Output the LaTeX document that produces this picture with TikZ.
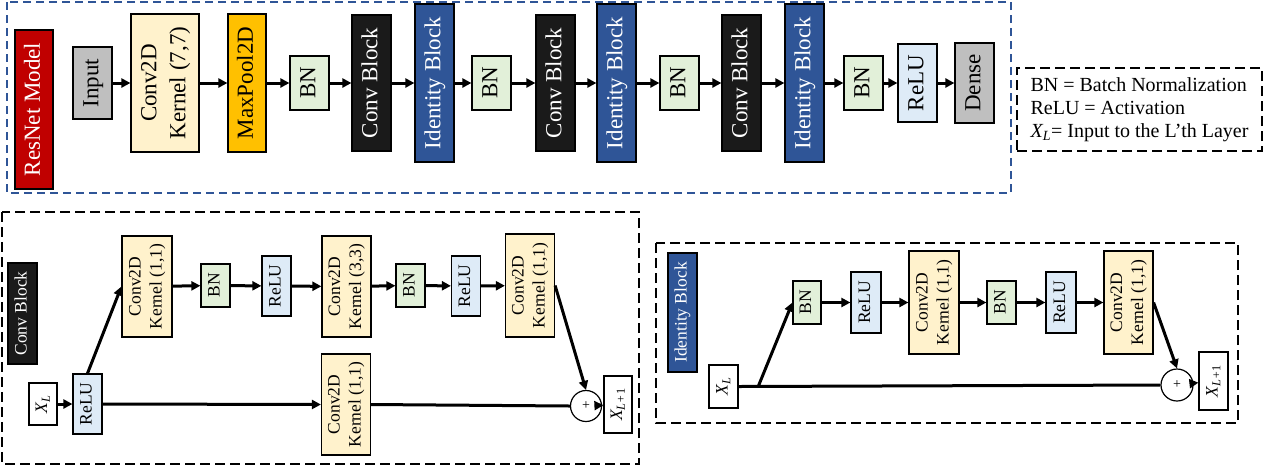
\documentclass[tikz,border=0pt]{standalone}
\usepackage{fontspec}
\setmainfont{Liberation Serif}
\usetikzlibrary{arrows.meta,calc,positioning}
\definecolor{resred}{HTML}{C00000}
\definecolor{ingray}{HTML}{BFBFBF}
\definecolor{convyel}{HTML}{FFF2CC}
\definecolor{poolgold}{HTML}{FFC000}
\definecolor{bngreen}{HTML}{E2F0D9}
\definecolor{blkblack}{HTML}{1A1A1A}
\definecolor{idblue}{HTML}{2F5597}
\definecolor{relublue}{HTML}{DEEBF7}
\newcommand{\vtext}[1]{\rotatebox{90}{\begin{tabular}{@{}c@{}}#1\end{tabular}}}
\tikzset{
blk/.style={draw=black, line width=1.2pt, inner sep=0pt},
topblk/.style={blk, font=\fontsize{23}{29}\selectfont},
subblk/.style={blk, font=\fontsize{17.5}{21}\selectfont},
sz/.style 2 args={minimum width=#1pt, minimum height=#2pt},
convnode/.style={fill=convyel},
bnnode/.style={fill=bngreen},
relunode/.style={fill=relublue},
cbnode/.style={fill=blkblack, text=white},
ibnode/.style={fill=idblue, text=white},
plusnode/.style={draw, circle, line width=1.2pt, fill=white, minimum size=31pt, inner sep=0pt, font=\fontsize{14}{16}\selectfont},
arr/.style={line width=3pt, -{Triangle[length=9pt,width=9pt]}},
plain/.style={line width=3pt},
topframe/.style={draw=idblue, line width=2.3pt, dash pattern=on 8pt off 5pt},
subframe/.style={draw=black, line width=2.5pt, dash pattern=on 10pt off 5pt},
}
\begin{document}
\begin{tikzpicture}[x=1pt, y=-1pt]
\useasboundingbox (0,0) rectangle (1263,467);
\draw[topframe] (7,2) rectangle (1011,193);
\draw[subframe] (2,212) rectangle (639,464);
\draw[subframe] (656,243) rectangle (1238,423);

\node[topblk, fill=resred, text=white, sz={38}{159}] (resnet) at (34,109.5) {\vtext{ResNet Model}};
\node[topblk, fill=ingray, sz={39}{72}] (inp) at (92.5,83) {\vtext{Input}};
\node[topblk, convnode, sz={68}{138}] (conv7) at (165,83) {\vtext{Conv2D\\Kernel (7,7)}};
\node[topblk, fill=poolgold, sz={38}{138}] (pool) at (247,83) {\vtext{MaxPool2D}};
\node[topblk, bnnode, sz={39}{54}] (bn1) at (309.5,83) {\vtext{BN}};
\node[topblk, cbnode, sz={39}{136}] (cb1) at (371.5,83) {\vtext{Conv Block}};
\node[topblk, ibnode, sz={39}{158}] (ib1) at (434.5,83) {\vtext{Identity Block}};
\node[topblk, bnnode, sz={39}{54}] (bn2) at (491.5,83) {\vtext{BN}};
\node[topblk, cbnode, sz={39}{136}] (cb2) at (555.5,83) {\vtext{Conv Block}};
\node[topblk, ibnode, sz={39}{158}] (ib2) at (616.5,83) {\vtext{Identity Block}};
\node[topblk, bnnode, sz={39}{54}] (bn3) at (679.5,83) {\vtext{BN}};
\node[topblk, cbnode, sz={39}{136}] (cb3) at (741.5,83) {\vtext{Conv Block}};
\node[topblk, ibnode, sz={39}{158}] (ib3) at (804.5,83) {\vtext{Identity Block}};
\node[topblk, bnnode, sz={39}{54}] (bn4) at (863.5,83) {\vtext{BN}};
\node[topblk, relunode, sz={39}{78}] (relu) at (917.5,83) {\vtext{ReLU}};
\node[topblk, fill=ingray, sz={39}{80}] (dense) at (974.5,83) {\vtext{Dense}};
\foreach \a/\b in {inp/conv7, conv7/pool, pool/bn1, bn1/cb1, cb1/ib1, ib1/bn2, bn2/cb2, cb2/ib2, ib2/bn3, bn3/cb3, cb3/ib3, ib3/bn4, bn4/relu, relu/dense}
  \draw[arr] (\a) -- (\b);

\node[draw, line width=2.5pt, dash pattern=on 10pt off 5pt, align=left, minimum width=245pt, minimum height=83pt,
  font=\fontsize{20}{23}\selectfont] (legend) at (1139.5,109.5)
  {BN = Batch Normalization\\ReLU = Activation\\\textit{X\textsubscript{L}}= Input to the L’th Layer};

\node[subblk, cbnode, sz={29}{101}] (cblab) at (22.5,313.5) {\vtext{Conv Block}};
\node[subblk, fill=white, sz={28}{42}] (xla) at (43,404) {\vtext{\textit{X\textsubscript{L}}}};
\node[subblk, relunode, sz={29}{60}] (relua) at (87.5,404) {\vtext{ReLU}};
\node[subblk, convnode, sz={50}{101}] (ca) at (147,286.5) {\vtext{Conv2D\\Kernel (1,1)}};
\node[subblk, bnnode, sz={29}{43}] (bna) at (215.5,285.5) {\vtext{BN}};
\node[subblk, relunode, sz={29}{60}] (relub) at (276.5,286) {\vtext{ReLU}};
\node[subblk, convnode, sz={49}{101}] (cb) at (346.5,286.5) {\vtext{Conv2D\\Kernel (3,3)}};
\node[subblk, bnnode, sz={29}{43}] (bnb) at (410.5,285.5) {\vtext{BN}};
\node[subblk, relunode, sz={29}{60}] (reluc) at (466,286) {\vtext{ReLU}};
\node[subblk, convnode, sz={49}{103}] (cc) at (530,285.5) {\vtext{Conv2D\\Kernel (1,1)}};
\node[subblk, convnode, sz={49}{101}] (cs) at (346,404.5) {\vtext{Conv2D\\Kernel (1,1)}};
\node[plusnode] (plusa) at (586,406) {+};
\node[subblk, fill=white, sz={28}{57}] (xlb) at (618,404.5) {\vtext{\textit{X\textsubscript{L+}}\textsubscript{1}}};
\draw[arr] (xla) -- (relua);
\draw[arr] (relua.north) -- (ca.west);
\foreach \a/\b in {ca/bna, bna/relub, relub/cb, cb/bnb, bnb/reluc, reluc/cc}
  \draw[arr] (\a) -- (\b);
\draw[arr] (cc.east) -- (plusa.north);
\draw[arr] (relua.east) -- (cs.west);
\draw[plain] (cs.east) -- (plusa.west);
\draw[arr] (plusa) -- (xlb);

\node[subblk, ibnode, sz={29}{119}] (iblab) at (682.5,312.5) {\vtext{Identity Block}};
\node[subblk, fill=white, sz={29}{43}] (xlc) at (723.5,386.5) {\vtext{\textit{X\textsubscript{L}}}};
\node[subblk, bnnode, sz={28}{43}] (bnc) at (807,302.5) {\vtext{BN}};
\node[subblk, relunode, sz={30}{61}] (relud) at (866,302.5) {\vtext{ReLU}};
\node[subblk, convnode, sz={50}{103}] (cd) at (934,302.5) {\vtext{Conv2D\\Kernel (1,1)}};
\node[subblk, bnnode, sz={29}{43}] (bnd) at (1001.5,302.5) {\vtext{BN}};
\node[subblk, relunode, sz={30}{61}] (relue) at (1061,302.5) {\vtext{ReLU}};
\node[subblk, convnode, sz={49}{103}] (ce) at (1128.5,302.5) {\vtext{Conv2D\\Kernel (1,1)}};
\node[plusnode, minimum size=32pt] (plusb) at (1177,385) {+};
\node[subblk, fill=white, sz={29}{58}] (xld) at (1213.5,381) {\vtext{\textit{X\textsubscript{L+}}\textsubscript{1}}};
\coordinate (br) at (758,387);
\draw[plain] (xlc.east) -- (plusb.west);
\draw[arr] (br) -- (bnc.west);
\foreach \a/\b in {bnc/relud, relud/cd, cd/bnd, bnd/relue, relue/ce}
  \draw[arr] (\a) -- (\b);
\draw[arr] (ce.east) -- (plusb.north);
\draw[arr] (plusb) -- (xld);
\end{tikzpicture}
\end{document}
